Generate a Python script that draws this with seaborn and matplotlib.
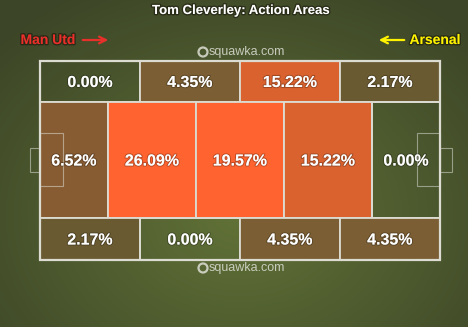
import numpy as np
import matplotlib
matplotlib.use("Agg")
import matplotlib.pyplot as plt
import seaborn as sns
from matplotlib.colors import LinearSegmentedColormap
from matplotlib.patches import Rectangle, Circle
import matplotlib.patheffects as pe

# ---------------- data ----------------
title = "Tom Cleverley: Action Areas"
home_team = "Man Utd"
away_team = "Arsenal"
watermark = "squawka.com"

top_values = [0.00, 4.35, 15.22, 2.17]
middle_values = [6.52, 26.09, 19.57, 15.22, 0.00]
bottom_values = [2.17, 0.00, 4.35, 4.35]

# ---------------- layout (pitch units, 0..100 both ways, y down) ----------------
wide_edges = [0, 25, 50, 75, 100]
middle_edges = [0, 17, 39, 61, 83, 100]
row_bounds = {"top": (0, 20.6), "middle": (20.6, 78.9), "bottom": (78.9, 100)}

sns.set_theme(style="white")
plt.rcParams["font.family"] = ["Liberation Sans", "DejaVu Sans"]

W, H = 468, 327
fig = plt.figure(figsize=(W / 100, H / 100), dpi=100)

# background radial gradient
bg = fig.add_axes([0, 0, 1, 1])
yy, xx = np.mgrid[0:H, 0:W]
r = np.sqrt(((xx - 240) / 330.0) ** 2 + ((yy - 215) / 260.0) ** 2)
r = np.clip(r, 0, 1)
c_in = np.array([97, 114, 55]) / 255
c_out = np.array([60, 69, 39]) / 255
img = c_in[None, None, :] * (1 - r[..., None]) + c_out[None, None, :] * r[..., None]
bg.imshow(img, extent=[0, W, H, 0], aspect="auto")
bg.set_xlim(0, W)
bg.set_ylim(H, 0)
bg.axis("off")

# colour scale for the zones
stops = [(0.0, "#5d6632"), (2.17 / 20, "#6a5a31"), (4.35 / 20, "#7b5e33"),
         (6.52 / 20, "#875c32"), (15.22 / 20, "#d9622e"), (19.0 / 20, "#ff632f"),
         (1.0, "#ff632f")]
cmap = LinearSegmentedColormap.from_list("squawka", stops)

def zone_color(v):
    if v <= 0:
        return (0, 0, 0, 0)
    return cmap(min(v / 20.0, 1.0))

# pitch axes
px0, px1, py0, py1 = 40, 440, 61, 260
pitch = fig.add_axes([px0 / W, 1 - py1 / H, (px1 - px0) / W, (py1 - py0) / H])
pitch.set_xlim(0, 100)
pitch.set_ylim(100, 0)
pitch.axis("off")
pitch.patch.set_alpha(0)

line_col = "#dcdcd2"

def draw_row(values, edges, bounds):
    lefts = edges[:-1]
    widths = np.diff(edges)
    y0, y1 = bounds
    pitch.bar(lefts, [y1 - y0] * len(values), width=widths, bottom=y0, align="edge",
              color=[zone_color(v) for v in values], edgecolor=line_col, linewidth=1.3)
    for l, w, v in zip(lefts, widths, values):
        pitch.text(l + w / 2, (y0 + y1) / 2 + 0.5, f"{v:.2f}%", ha="center", va="center",
                   color="white", fontsize=11.5, fontweight="bold",
                   path_effects=[pe.withStroke(linewidth=1.5, foreground=(0, 0, 0, 0.25))])

draw_row(top_values, wide_edges, row_bounds["top"])
draw_row(middle_values, middle_edges, row_bounds["middle"])
draw_row(bottom_values, wide_edges, row_bounds["bottom"])

# outer border and pitch markings
pitch.add_patch(Rectangle((0, 0), 100, 100, fill=False, edgecolor=line_col, lw=1.6, clip_on=False))
for x, w in [(0, 5.75), (94.25, 5.75)]:
    pitch.add_patch(Rectangle((x, 36.2), w, 26.6, fill=False, edgecolor=line_col,
                              lw=0.8, alpha=0.55, clip_on=False))
for x, w in [(-2.6, 2.6), (100, 3.0)]:
    pitch.add_patch(Rectangle((x, 43.7), w, 12.1, fill=False, edgecolor=line_col,
                              lw=0.8, alpha=0.55, clip_on=False))

# overlay for text
ov = fig.add_axes([0, 0, 1, 1])
ov.set_xlim(0, W)
ov.set_ylim(H, 0)
ov.axis("off")
ov.patch.set_alpha(0)

shadow = [pe.withStroke(linewidth=2, foreground=(0.1, 0.1, 0.05, 0.6))]
ov.text(241, 11, title, ha="center", va="center", color="white", fontsize=9.5,
        fontweight="bold", path_effects=shadow)

ov.text(48, 40, home_team, ha="center", va="center", color="#e8302a", fontsize=10,
        fontweight="bold", path_effects=shadow)
ov.annotate("", xy=(111, 40), xytext=(80, 40),
            arrowprops=dict(arrowstyle="->", color="#e8302a", lw=1.6, mutation_scale=12))
ov.text(435, 40, away_team, ha="center", va="center", color="#fff200", fontsize=10,
        fontweight="bold", path_effects=shadow)
ov.annotate("", xy=(376, 40), xytext=(407, 40),
            arrowprops=dict(arrowstyle="->", color="#fff200", lw=1.6, mutation_scale=12))

for yv in (52, 268):
    ov.add_patch(Circle((203, yv), 4.5, facecolor="none", edgecolor="#d6d8cc", lw=1.6, alpha=0.9))
    ov.text(209, yv, watermark, ha="left", va="center", color="#d6d8cc", fontsize=9,
            alpha=0.9)

fig.savefig("out.png", dpi=100)
